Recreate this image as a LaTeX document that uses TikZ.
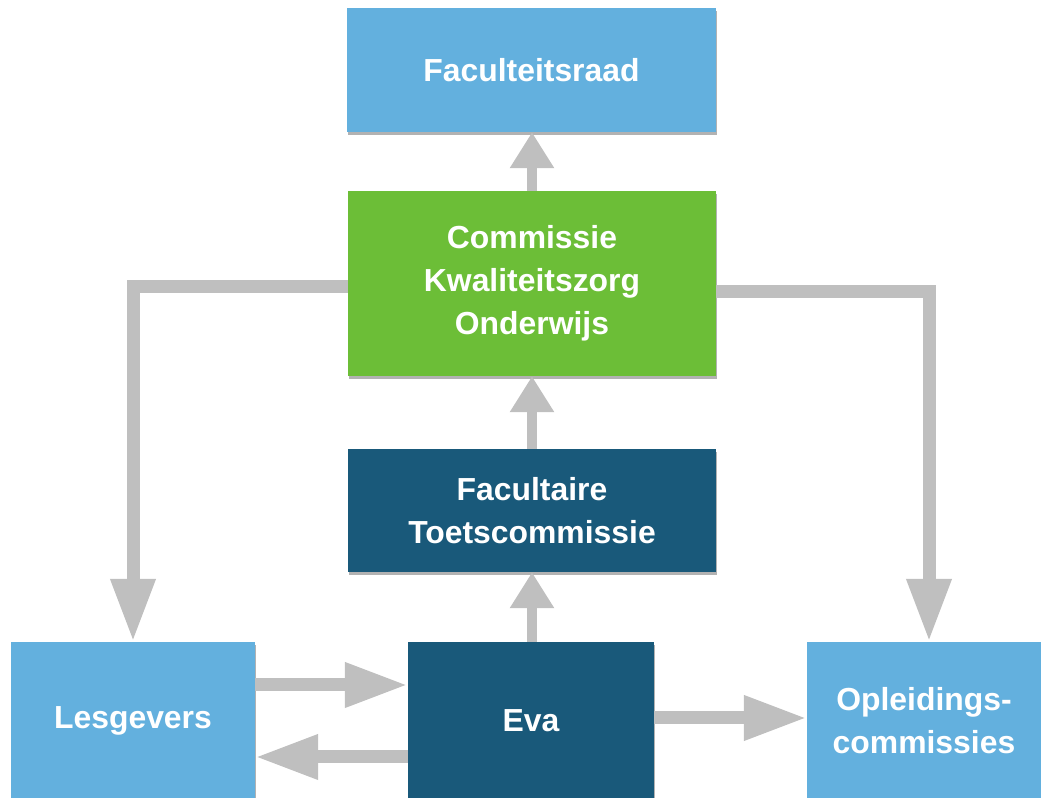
\documentclass[tikz,border=0pt]{standalone}
\usepackage{fontspec}
\setmainfont{Liberation Sans}
\usetikzlibrary{arrows.meta,shadows}
\definecolor{lightblue}{HTML}{63B0DE}
\definecolor{kzogreen}{HTML}{6CBE37}
\definecolor{darkteal}{HTML}{19597A}
\definecolor{arrowgray}{HTML}{BFBFBF}
\tikzset{
  box/.style={rectangle, inner sep=2bp, align=center, text=white,
    font=\fontsize{32}{43}\selectfont\bfseries,
    drop shadow={shadow xshift=1bp, shadow yshift=-3bp, opacity=0.3, fill=black}},
  bigconn/.style={draw=arrowgray, line width=13bp, line join=miter,
    -{Triangle[width=42bp,length=63bp]}},
  upconn/.style={draw=arrowgray, line width=10bp,
    -{Triangle[width=42bp,length=36bp]}},
}
\begin{document}
\begin{tikzpicture}[x=1bp,y=1bp]
\useasboundingbox (0,0) rectangle (1041,798);
\node[box, fill=lightblue, minimum width=369bp, minimum height=124bp] (fr) at (531.5,728) {Faculteitsraad};
\node[box, fill=kzogreen, minimum width=368bp, minimum height=185bp] (kzo) at (532,514.5) {Commissie\\Kwaliteitszorg\\Onderwijs};
\node[box, fill=darkteal, minimum width=368bp, minimum height=123bp] (ft) at (532,287.5) {Facultaire\\Toetscommissie};
\node[box, fill=lightblue, minimum width=244bp, minimum height=158bp] (les) at (133,77) {Lesgevers};
\node[box, fill=darkteal, minimum width=246bp, minimum height=158bp] (eva) at (531,77) {Eva};
\node[box, fill=lightblue, minimum width=234bp, minimum height=158bp] (opl) at (924,77) {Opleidings-\\commissies};
% vertical arrows
\draw[upconn] (kzo.north) -- (kzo.north |- fr.south);
\draw[upconn] (ft.north) -- (kzo.south);
\draw[upconn] (ft.south |- eva.north) -- (ft.south);
% side connectors
\draw[bigconn] ([yshift=-3.5bp]kzo.west) -| (les.north);
\draw[bigconn] ([yshift=-8.5bp]kzo.east) -| ([xshift=5bp]opl.north);
% bottom row
\draw[bigconn] ([yshift=36bp]les.east) -- ([yshift=36bp]eva.west);
\draw[bigconn] ([yshift=-36bp]eva.west) -- ([yshift=-36bp]les.east);
\draw[bigconn] ([yshift=3bp]eva.east) -- ([yshift=3bp]opl.west);
\end{tikzpicture}
\end{document}
